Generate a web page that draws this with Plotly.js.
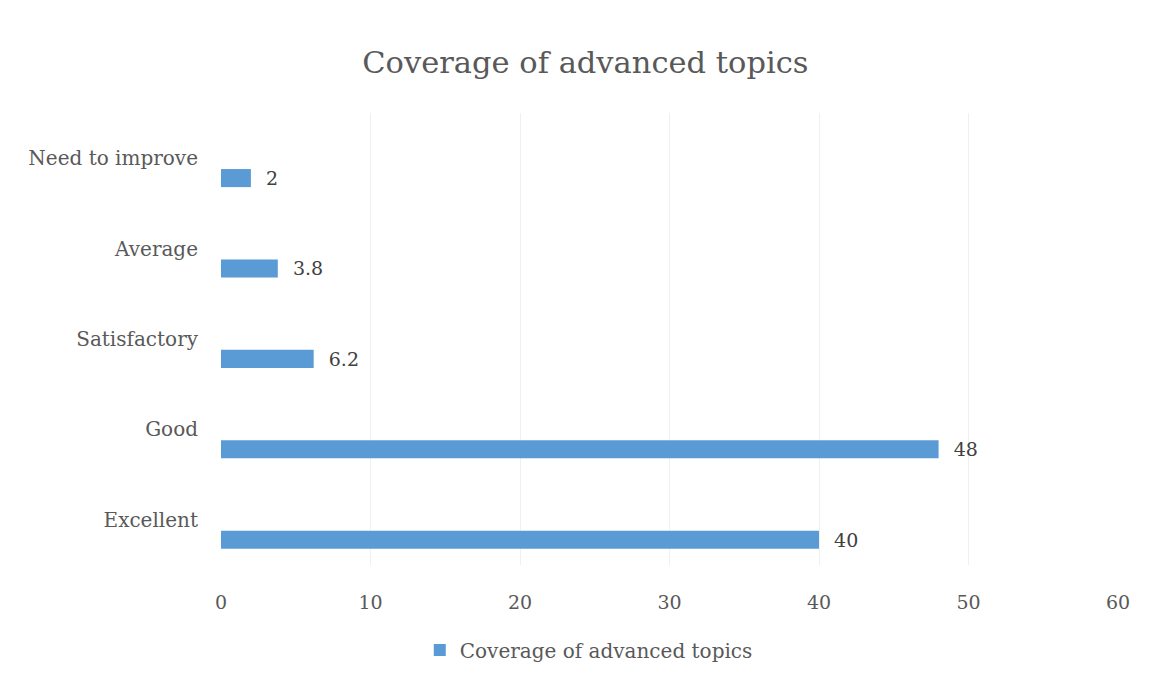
<!DOCTYPE html>
<html>
<head>
<meta charset="utf-8">
<script src="https://cdn.plot.ly/plotly-3.0.1.min.js"></script>
<style>html,body{margin:0;padding:0;background:#fff;}#chart{width:1150px;height:681px;}</style>
</head>
<body>
<div id="chart"></div>
<script>
const categories = ["Excellent", "Good", "Satisfactory", "Average", "Need to improve"];
const values = [40, 48, 6.2, 3.8, 2];
const valueLabels = ["40", "48", "6.2", "3.8", "2"];
const seriesName = "Coverage of advanced topics";
const xTicks = [0, 10, 20, 30, 40, 50, 60];

const fontFam = "DejaVu Serif, Liberation Serif, serif";

const trace = {
  type: "bar",
  orientation: "h",
  name: seriesName,
  y: categories,
  x: values,
  text: valueLabels,
  texttemplate: "\u00a0\u00a0%{text}",
  textposition: "outside",
  constraintext: "none",
  cliponaxis: false,
  textfont: {family: fontFam, size: 19, color: "#404040"},
  marker: {color: "#5b9bd5"},
  width: 0.2,
  offset: -0.32,
  hoverinfo: "x+y"
};

const layout = {
  width: 1150,
  height: 681,
  paper_bgcolor: "#ffffff",
  plot_bgcolor: "#ffffff",
  margin: {l: 221, r: 32, t: 113, b: 116},
  title: {
    text: "Coverage of advanced topics",
    font: {family: fontFam, size: 30.5, color: "#595959"},
    x: 0.509, xref: "container", xanchor: "center",
    y: 0.909, yref: "container", yanchor: "middle"
  },
  xaxis: {
    range: [0, 60],
    tickvals: xTicks,
    ticktext: xTicks.map(String),
    showgrid: true,
    gridcolor: "#f0f0f0",
    gridwidth: 1,
    zeroline: false,
    showline: false,
    ticks: "outside",
    ticklen: 20,
    tickcolor: "rgba(0,0,0,0)",
    tickfont: {family: fontFam, size: 19, color: "#595959"},
    fixedrange: true
  },
  yaxis: {
    type: "category",
    categoryorder: "array",
    categoryarray: categories,
    range: [-0.5, 4.5],
    showgrid: false,
    zeroline: false,
    showline: false,
    ticks: "outside",
    ticklen: 18,
    tickcolor: "rgba(0,0,0,0)",
    tickfont: {family: fontFam, size: 20, color: "#595959"},
    fixedrange: true
  },
  showlegend: true,
  legend: {
    orientation: "h",
    x: 0.41, xanchor: "center",
    y: -0.188, yanchor: "middle",
    font: {family: fontFam, size: 20, color: "#595959"},
    itemwidth: 30
  },
  bargap: 0.8
};

Plotly.newPlot("chart", [trace], layout, {displayModeBar: false, staticPlot: true});
</script>
</body>
</html>
